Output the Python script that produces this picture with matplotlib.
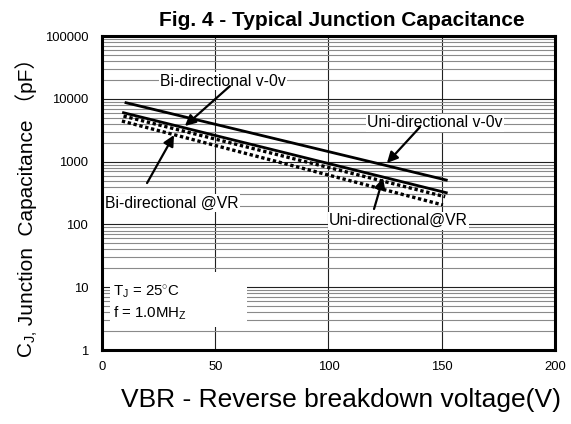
import matplotlib
matplotlib.use("Agg")
from matplotlib import pyplot as plt
from matplotlib import patches

# ---- data (two end points per straight line) ----
uni_v0_vbr = [10.6, 152]
uni_v0_cap = [8670, 509]

bi_v0_vbr = [9.5, 152]
bi_v0_cap = [6010, 320]

uni_vr_vbr = [9.5, 151.5]
uni_vr_cap = [5320, 276]

bi_vr_vbr = [8.8, 150.5]
bi_vr_cap = [4430, 204]

x_ticks = [0, 50, 100, 150, 200]
y_ticks = [1, 10, 100, 1000, 10000, 100000]
y_tick_labels = ["1", "10", "100", "1000", "10000", "100000"]

plt.rcParams['font.family'] = ['Liberation Sans', 'DejaVu Sans']
plt.rcParams['mathtext.fontset'] = 'custom'
plt.rcParams['mathtext.rm'] = 'Liberation Sans'
plt.rcParams['mathtext.it'] = 'Liberation Sans:italic'

fig = plt.figure(figsize=(5.71, 4.24), dpi=100)
ax = fig.add_axes([0.1786, 0.1745, 0.7934, 0.7405])

ax.set_xlim(0, 200)
ax.set_yscale('log')
ax.set_ylim(1, 100000)
ax.set_xticks(x_ticks)
ax.set_yticks(y_ticks)
ax.set_yticklabels(y_tick_labels)
ax.tick_params(axis='both', which='both', length=0, labelsize=9.4)
ax.tick_params(axis='y', pad=10)
ax.tick_params(axis='x', pad=8)
ax.yaxis.set_minor_formatter(plt.NullFormatter())

ax.set_axisbelow(True)
ax.grid(which='major', axis='y', color='#202020', lw=0.8)
ax.grid(which='minor', axis='y', color='#8a8a8a', lw=0.8)
ax.grid(which='major', axis='x', color='#202020', lw=0.8)

for sp in ax.spines.values():
    sp.set_linewidth(2.2)

# white area behind the conditions note
ax.add_patch(patches.Rectangle((0.018, 0.073), 0.302, 0.175, transform=ax.transAxes,
                               facecolor='white', edgecolor='none', zorder=1.5))

ax.plot(uni_v0_vbr, uni_v0_cap, color='black', lw=2.0, zorder=3)
ax.plot(bi_v0_vbr, bi_v0_cap, color='black', lw=2.0, zorder=3)
ax.plot(uni_vr_vbr, uni_vr_cap, color='black', lw=2.4, ls=(0, (1, 0.8)), zorder=3)
ax.plot(bi_vr_vbr, bi_vr_cap, color='black', lw=2.4, ls=(0, (1, 0.8)), zorder=3)

arrow = dict(arrowstyle='-|>', color='black', lw=1.6, mutation_scale=16, shrinkA=0, shrinkB=0)
ax.annotate('', xy=(36.6, 3690), xytext=(56.5, 16000), arrowprops=arrow, zorder=4)
ax.annotate('', xy=(31.8, 2650), xytext=(19.9, 456), arrowprops=arrow, zorder=4)
ax.annotate('', xy=(125.8, 950), xytext=(140.4, 3556), arrowprops=arrow, zorder=4)
ax.annotate('', xy=(124.1, 548), xytext=(120.1, 176), arrowprops=arrow, zorder=4)

box = dict(facecolor='white', edgecolor='none', pad=1)
lab_fs = 11.3
ax.text(25.6, 19200, "Bi-directional v-0v", fontsize=lab_fs, va='center', ha='left', bbox=box, zorder=2)
ax.text(117, 4160, "Uni-directional v-0v", fontsize=lab_fs, va='center', ha='left', bbox=box, zorder=2)
ax.text(1.3, 219, "Bi-directional @VR", fontsize=lab_fs, va='center', ha='left', bbox=box, zorder=2)
ax.text(100.2, 115, "Uni-directional@VR", fontsize=lab_fs, va='center', ha='left', bbox=box, zorder=2)

ax.text(4.7, 8.5, r"T$_\mathregular{J}$ = 25$^{\circ}$C", fontsize=10.8, va='center', ha='left', zorder=2)
ax.text(4.7, 3.88, r"f = 1.0MH$_\mathregular{Z}$", fontsize=10.8, va='center', ha='left', zorder=2)

fig.text(0.599, 1 - 20 / 424, "Fig. 4 - Typical Junction Capacitance",
         fontsize=15, fontweight='bold', ha='center', va='center')
fig.text(0.598, 1 - 400 / 424, "VBR - Reverse breakdown voltage(V)",
         fontsize=19, ha='center', va='center')

# y label in two pieces: the subscript part uses mathtext, the rest needs CJK brackets
ylab_fs = 15
ylab_x = 33 / 571
t1 = fig.text(ylab_x, 1 - 358 / 424, r"C$_\mathregular{J,}$", fontsize=ylab_fs, rotation=90,
              rotation_mode='anchor', ha='left', va='baseline')
fig.canvas.draw()
bb = t1.get_window_extent()
fig.text(ylab_x, bb.y1 / fig.bbox.height, " Junction  Capacitance （pF）", fontsize=ylab_fs,
         rotation=90, rotation_mode='anchor', ha='left', va='baseline',
         family=['Liberation Sans', 'Noto Sans CJK SC'])

fig.savefig("out.png", dpi=100)
